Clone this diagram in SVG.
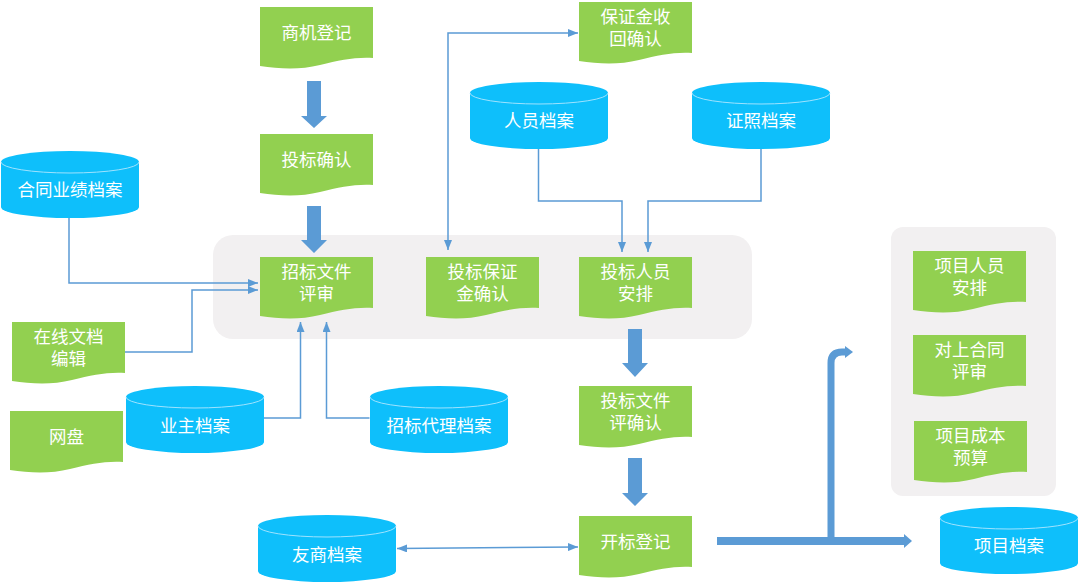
<svg xmlns="http://www.w3.org/2000/svg" xmlns:xlink="http://www.w3.org/1999/xlink" width="1080" height="584" viewBox="0 0 1080 584">
<style>
.doc{fill:#92d050}
.cyl{fill:#0ebffb}
.rim{fill:none;stroke:#9fe3ff;stroke-width:1}
.panel{fill:#f2f0f1}
.t{font-family:"Liberation Sans","Noto Sans CJK SC",sans-serif;font-size:17.5px;fill:#ffffff;text-anchor:middle;dominant-baseline:central}
.thin{fill:none;stroke:#5b9bd5;stroke-width:1.5}
.thick{fill:none;stroke:#5b9bd5}
.blk{fill:#5b9bd5}
</style>
<defs>
<path id="docShape" d="M0,0 H113 V51 C95,50 80,53 60,58 C40,63 20,62 0,59 Z"/>
<path id="cylBody" d="M0,11 A69,11 0 0 1 138,11 V56 A69,11 0 0 1 0,56 Z"/>
<path id="cylRim" d="M0,11 A69,11 0 0 0 138,11"/>
<marker id="ah" viewBox="0 0 10 8" refX="10" refY="4" markerWidth="10" markerHeight="8" markerUnits="userSpaceOnUse" orient="auto-start-reverse">
<path d="M0,0 L10,4 L0,8 Z" fill="#5b9bd5"/>
</marker>
</defs>

<g id="panels">
<rect class="panel" x="213" y="235" width="539" height="104" rx="20"/>
<rect class="panel" x="891" y="227" width="165" height="269" rx="12"/>
</g>

<g id="connectors">
<path class="thin" d="M69,218 V283 H258" marker-end="url(#ah)"/>
<path class="thin" d="M125,352 H192 V290 H258" marker-end="url(#ah)"/>
<path class="thin" d="M264,418 H300.5 V322" marker-end="url(#ah)"/>
<path class="thin" d="M369.5,418 H326.5 V322" marker-end="url(#ah)"/>
<path class="thin" d="M448,250 V33 H578" marker-start="url(#ah)" marker-end="url(#ah)"/>
<path class="thin" d="M538.5,149 V201 H622 V252" marker-end="url(#ah)"/>
<path class="thin" d="M761,149 V201 H648 V252" marker-end="url(#ah)"/>
<path class="thin" d="M397,548.5 L578,547" marker-start="url(#ah)" marker-end="url(#ah)"/>
<polygon class="blk" points="307,81 321,81 321,116 327,116 314,128 301,116 307,116"/>
<polygon class="blk" points="307,206 321,206 321,240 327,240 314,253 301,240 307,240"/>
<polygon class="blk" points="628,329 642,329 642,363 648,363 635,377 622,363 628,363"/>
<polygon class="blk" points="628,458 642,458 642,493 648,493 635,506 622,493 628,493"/>
<path class="thick" stroke-width="8" d="M717,541 H905"/>
<polygon class="blk" points="904,534 912,541 904,548"/>
<path class="thick" stroke-width="7" d="M831,541 V363 Q831,352 842,352 H846"/>
<polygon class="blk" points="845,346 853,352 845,358"/>
</g>

<g id="n-shangji"><use href="#docShape" class="doc" x="260" y="7"/><text class="t" x="316.5" y="33">商机登记</text></g>
<g id="n-toubiao-queren"><use href="#docShape" class="doc" x="260" y="134"/><text class="t" x="316.5" y="160">投标确认</text></g>
<g id="n-zhaobiao-pingshen"><use href="#docShape" class="doc" x="260" y="257"/><text class="t" x="316.5" y="272">招标文件</text><text class="t" x="316.5" y="294">评审</text></g>
<g id="n-baozhengjin-huishou"><use href="#docShape" class="doc" x="579" y="2"/><text class="t" x="635.5" y="17">保证金收</text><text class="t" x="635.5" y="39">回确认</text></g>
<g id="n-toubiao-baozhengjin"><use href="#docShape" class="doc" x="426" y="257"/><text class="t" x="482.5" y="272">投标保证</text><text class="t" x="482.5" y="294">金确认</text></g>
<g id="n-toubiao-renyuan"><use href="#docShape" class="doc" x="579" y="257"/><text class="t" x="635.5" y="272">投标人员</text><text class="t" x="635.5" y="294">安排</text></g>
<g id="n-toubiao-wenjian"><use href="#docShape" class="doc" x="579" y="386"/><text class="t" x="635.5" y="401">投标文件</text><text class="t" x="635.5" y="423">评确认</text></g>
<g id="n-kaibiao"><use href="#docShape" class="doc" x="579" y="516"/><text class="t" x="635.5" y="542">开标登记</text></g>
<g id="n-zaixian"><use href="#docShape" class="doc" x="12" y="322"/><text class="t" x="68.5" y="337">在线文档</text><text class="t" x="68.5" y="359">编辑</text></g>
<g id="n-wangpan"><use href="#docShape" class="doc" x="10" y="411"/><text class="t" x="66.5" y="437">网盘</text></g>
<g id="n-xiangmu-renyuan"><use href="#docShape" class="doc" x="913" y="251"/><text class="t" x="969.5" y="266">项目人员</text><text class="t" x="969.5" y="288">安排</text></g>
<g id="n-duishang"><use href="#docShape" class="doc" x="913" y="335"/><text class="t" x="969.5" y="350">对上合同</text><text class="t" x="969.5" y="372">评审</text></g>
<g id="n-chengben"><use href="#docShape" class="doc" x="914" y="421"/><text class="t" x="970.5" y="436">项目成本</text><text class="t" x="970.5" y="458">预算</text></g>

<g id="n-hetong"><use href="#cylBody" class="cyl" x="1" y="151"/><use href="#cylRim" class="rim" x="1" y="151"/><text class="t" x="70" y="190">合同业绩档案</text></g>
<g id="n-renyuan"><use href="#cylBody" class="cyl" x="470" y="82"/><use href="#cylRim" class="rim" x="470" y="82"/><text class="t" x="539" y="121">人员档案</text></g>
<g id="n-zhengzhao"><use href="#cylBody" class="cyl" x="692" y="82"/><use href="#cylRim" class="rim" x="692" y="82"/><text class="t" x="761" y="121">证照档案</text></g>
<g id="n-yezhu"><use href="#cylBody" class="cyl" x="126" y="386"/><use href="#cylRim" class="rim" x="126" y="386"/><text class="t" x="195" y="426">业主档案</text></g>
<g id="n-zhaobiao-daili"><use href="#cylBody" class="cyl" x="370" y="386"/><use href="#cylRim" class="rim" x="370" y="386"/><text class="t" x="439" y="426">招标代理档案</text></g>
<g id="n-youshang"><use href="#cylBody" class="cyl" x="258" y="515"/><use href="#cylRim" class="rim" x="258" y="515"/><text class="t" x="327" y="555">友商档案</text></g>
<g id="n-xiangmu-dangan"><use href="#cylBody" class="cyl" x="940" y="507"/><use href="#cylRim" class="rim" x="940" y="507"/><text class="t" x="1009" y="546">项目档案</text></g>
</svg>
